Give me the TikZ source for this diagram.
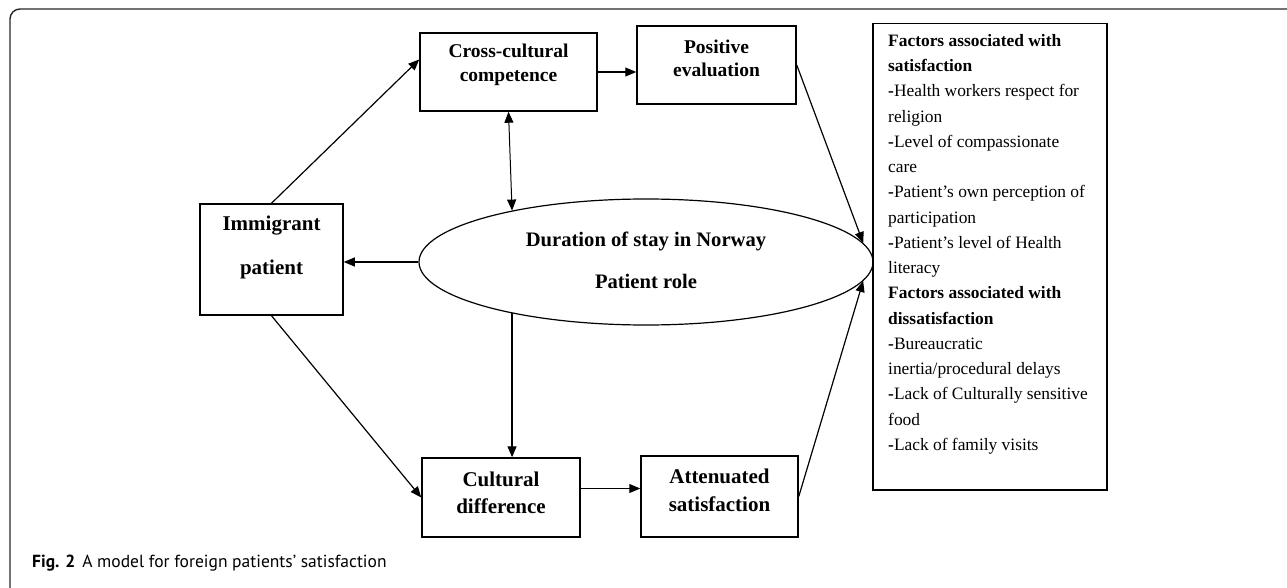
\documentclass[tikz,border=0pt]{standalone}
\usepackage{fontspec}
\setmainfont{Liberation Serif}
\newfontfamily\capfont{PT Sans}
\usetikzlibrary{arrows.meta,shapes.geometric,calc}
\begin{document}
\begin{tikzpicture}[x=1pt,y=-1pt,
  box/.style={draw, line width=1.5pt, inner sep=0pt},
  btext/.style={align=center, inner sep=0pt, font=\bfseries},
  arr/.style={line width=1.2pt, -{Triangle[length=11pt,width=9pt]}},
  darr/.style={line width=1pt, {Triangle[length=11pt,width=9pt]}-{Triangle[length=11pt,width=9pt]}},
  frame/.style={line width=1.4pt, black!85, rounded corners=10pt}]
\useasboundingbox (0,0) rectangle (1287,588);
\draw[frame] (10,588) -- (10,9) -- (1287,9);

% boxes
\node[box, minimum width=177, minimum height=78] (cross) at (508.5,72) {};
\node[btext, font=\bfseries\fontsize{19.5}{24}\selectfont] (crossT) at (508.5,65) {Cross-cultural\\competence};

\node[box, minimum width=159, minimum height=78] (pos) at (716.5,65) {};
\node[btext, font=\bfseries\fontsize{19.5}{23}\selectfont] (posT) at (716.5,58.5) {Positive\\evaluation};

\node[box, minimum width=143, minimum height=111] (imm) at (271.5,259.5) {};
\node[btext, font=\bfseries\fontsize{21}{44}\selectfont] (immT) at (271.5,247) {Immigrant\\patient};

\node[draw, ellipse, line width=1.2pt, inner sep=0pt, minimum width=454, minimum height=126] (ell) at (646,262) {};
\node[btext, font=\bfseries\fontsize{20.6}{42}\selectfont] (ellT) at (646,260) {Duration of stay in Norway\\Patient role};

\node[box, minimum width=158, minimum height=79] (cul) at (501,497.5) {};
\node[btext, font=\bfseries\fontsize{21}{27}\selectfont] (culT) at (501,492.5) {Cultural\\difference};

\node[box, minimum width=157, minimum height=81] (att) at (719.5,496.5) {};
\node[btext, font=\bfseries\fontsize{21}{28}\selectfont] (attT) at (719.5,490) {Attenuated\\satisfaction};

\node[box, minimum width=234, minimum height=466, anchor=north west] (fac) at (872,23) {};
\node[anchor=north west, align=left, inner sep=0pt, font=\fontsize{17.4}{25.25}\selectfont] (facT) at (888,34) {%
\textbf{Factors associated with}\\
\textbf{satisfaction}\\
\textbf{-}Health workers respect for\\
religion\\
\textbf{-}Level of compassionate\\
care\\
\textbf{-}Patient’s own perception of\\
participation\\
\textbf{-}Patient’s level of Health\\
literacy\\
\textbf{Factors associated with}\\
\textbf{dissatisfaction}\\
\textbf{-}Bureaucratic\\
inertia/procedural delays\\
\textbf{-}Lack of Culturally sensitive\\
food\\
\textbf{-}Lack of family visits};

% connectors
\draw[arr] (imm.north) -- (cross.172);
\draw[arr] (cross.east) -- (cross.east -| pos.west);
\draw[darr] (cross.south) -- (ell.159);
\draw[arr] (ell.west) -- (ell.west -| imm.east);
\draw[arr] (imm.south) -- (cul.west);
\draw[arr] (ell.201) -- (ell.201 |- cul.north);
\draw[arr] ($(cul.east)+(0,-9)$) -- ($(cul.east -| att.west)+(0,-9)$);
\draw[arr] (pos.east) -- (ell.5);
\draw[arr] (att.east) -- (ell.-5);

% caption
\node[anchor=base west, inner sep=0pt, font=\capfont\fontsize{17.5}{20}\selectfont] (cap) at (32,567) {\textbf{Fig. 2}\hspace{7pt}A model for foreign patients’ satisfaction};
\end{tikzpicture}
\end{document}
